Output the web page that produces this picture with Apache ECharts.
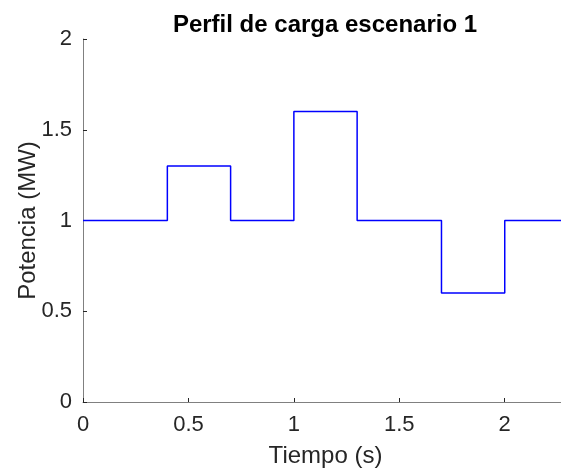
<!DOCTYPE html>
<html>
<head>
<meta charset="utf-8">
<script src="https://cdn.jsdelivr.net/npm/echarts@6/dist/echarts.min.js"></script>
<style>
  html, body { margin: 0; padding: 0; background: #fff; }
  #chart { width: 561px; height: 471px; }
</style>
</head>
<body>
<div id="chart"></div>
<script>
// Load profile: each power level holds from its start time until the next one
const tiempo = [0, 0.4, 0.7, 1.0, 1.3, 1.7, 2.0, 2.3];
const potencia = [1, 1.3, 1, 1.6, 1, 0.6, 1, 1];
const xRange = [0, 2.3];
const yTicks = [0, 0.5, 1, 1.5, 2];

const axisGray = '#262626';
const font = 'Liberation Sans, Arial, Helvetica, sans-serif';

const chart = echarts.init(document.getElementById('chart'), null, { renderer: 'canvas' });
chart.setOption({
  animation: false,
  backgroundColor: '#ffffff',
  title: {
    text: 'Perfil de carga escenario 1',
    left: 320,
    textAlign: 'center',
    top: 8,
    textStyle: { fontFamily: font, fontSize: 24, fontWeight: 'bold', color: '#000' }
  },
  grid: {
    left: 83, top: 39, width: 485, height: 363,
    containLabel: false,
    outerBoundsMode: 'none'
  },
  xAxis: {
    type: 'value',
    min: xRange[0],
    max: xRange[1],
    interval: 0.5,
    name: 'Tiempo (s)',
    nameLocation: 'middle',
    nameGap: 42,
    nameMoveOverlap: false,
    nameTextStyle: { fontFamily: font, fontSize: 24, color: axisGray },
    axisLine: { show: true, onZero: false, lineStyle: { color: '#808080', width: 1 } },
    axisTick: { show: true, inside: true, length: 4, lineStyle: { color: axisGray } },
    axisLabel: { fontFamily: font, fontSize: 22, color: axisGray, margin: 12, showMaxLabel: false },
    splitLine: { show: false }
  },
  yAxis: {
    type: 'value',
    min: yTicks[0],
    max: yTicks[yTicks.length - 1],
    interval: 0.5,
    name: 'Potencia (MW)',
    nameLocation: 'middle',
    nameGap: 43,
    nameMoveOverlap: false,
    nameTextStyle: { fontFamily: font, fontSize: 24, color: axisGray },
    axisLine: { show: true, lineStyle: { color: '#808080', width: 1 } },
    axisTick: { show: true, inside: true, length: 4, lineStyle: { color: axisGray } },
    axisLabel: { fontFamily: font, fontSize: 22, color: axisGray, margin: 11 },
    splitLine: { show: false }
  },
  series: [{
    type: 'line',
    step: 'end',
    data: tiempo.map((t, i) => [t, potencia[i]]),
    showSymbol: false,
    symbol: 'none',
    lineStyle: { color: '#0000ff', width: 1.5 },
    clip: true
  }]
});
</script>
</body>
</html>
